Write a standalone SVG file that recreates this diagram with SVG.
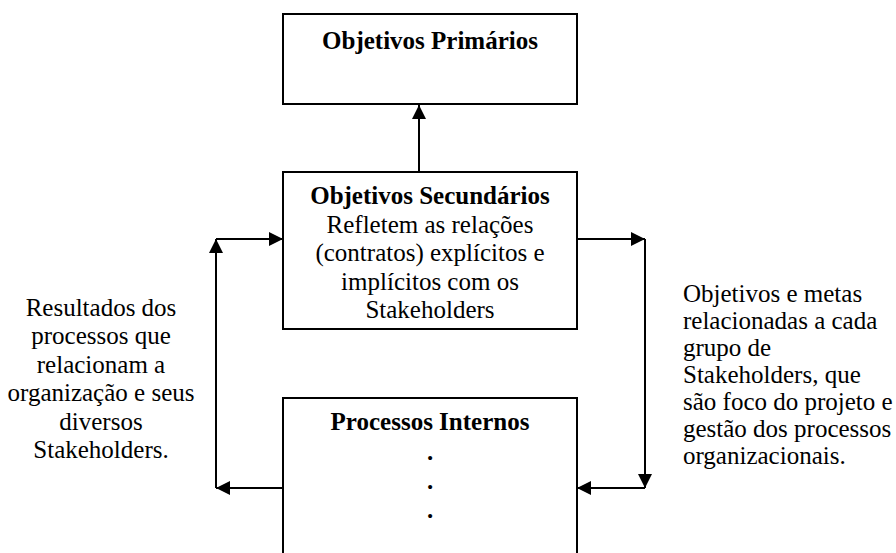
<svg xmlns="http://www.w3.org/2000/svg" width="896" height="553" viewBox="0 0 896 553">
  <style>
    .box { fill: #fff; stroke: #000; stroke-width: 2; }
    .conn { fill: none; stroke: #000; stroke-width: 2; }
    text { font-family: "Liberation Serif", "Times New Roman", serif; font-size: 25px; fill: #000; }
    .b { font-weight: bold; }
    .c { text-anchor: middle; }
  </style>
  <defs>
    <marker id="arrow" markerUnits="userSpaceOnUse" markerWidth="14" markerHeight="14" refX="14" refY="7" orient="auto">
      <path d="M0,0 L14,7 L0,14 z" fill="#000"/>
    </marker>
  </defs>

  <rect width="896" height="553" fill="#fff"/>

  <g id="objetivos-primarios">
    <rect class="box" x="283" y="14" width="294" height="90"/>
    <text class="b c" x="430" y="49">Objetivos Primários</text>
  </g>

  <g id="objetivos-secundarios">
    <rect class="box" x="283" y="172" width="294" height="157"/>
    <text class="b c" x="430" y="204">Objetivos Secundários</text>
    <text class="c" x="430" y="232.5">Refletem as relações</text>
    <text class="c" x="430" y="261">(contratos) explícitos e</text>
    <text class="c" x="430" y="289.5">implícitos com os</text>
    <text class="c" x="430" y="318">Stakeholders</text>
  </g>

  <g id="processos-internos">
    <rect class="box" x="283" y="398" width="294" height="170"/>
    <text class="b c" x="430" y="430">Processos Internos</text>
    <text class="b c" x="430" y="460">.</text>
    <text class="b c" x="430" y="489">.</text>
    <text class="b c" x="430" y="518">.</text>
  </g>

  <g id="connectors">
    <path class="conn" d="M419,172 V105" marker-end="url(#arrow)"/>
    <path class="conn" d="M283,488 H216" marker-end="url(#arrow)"/>
    <path class="conn" d="M216,488 V239" marker-end="url(#arrow)"/>
    <path class="conn" d="M216,239 H283" marker-end="url(#arrow)"/>
    <path class="conn" d="M577,239 H645" marker-end="url(#arrow)"/>
    <path class="conn" d="M645,239 V488" marker-end="url(#arrow)"/>
    <path class="conn" d="M645,488 H577" marker-end="url(#arrow)"/>
  </g>

  <g id="label-resultados">
    <text class="c" x="101" y="315.5">Resultados dos</text>
    <text class="c" x="101" y="344">processos que</text>
    <text class="c" x="101" y="372.5">relacionam a</text>
    <text class="c" x="101" y="401">organização e seus</text>
    <text class="c" x="101" y="429.5">diversos</text>
    <text class="c" x="101" y="458">Stakeholders.</text>
  </g>

  <g id="label-objetivos-metas">
    <text x="683" y="301.5">Objetivos e metas</text>
    <text x="683" y="328.5">relacionadas a cada</text>
    <text x="683" y="355.5">grupo de</text>
    <text x="683" y="382.5">Stakeholders, que</text>
    <text x="683" y="409.5">são foco do projeto e</text>
    <text x="683" y="436.5">gestão dos processos</text>
    <text x="683" y="463.5">organizacionais.</text>
  </g>
</svg>
